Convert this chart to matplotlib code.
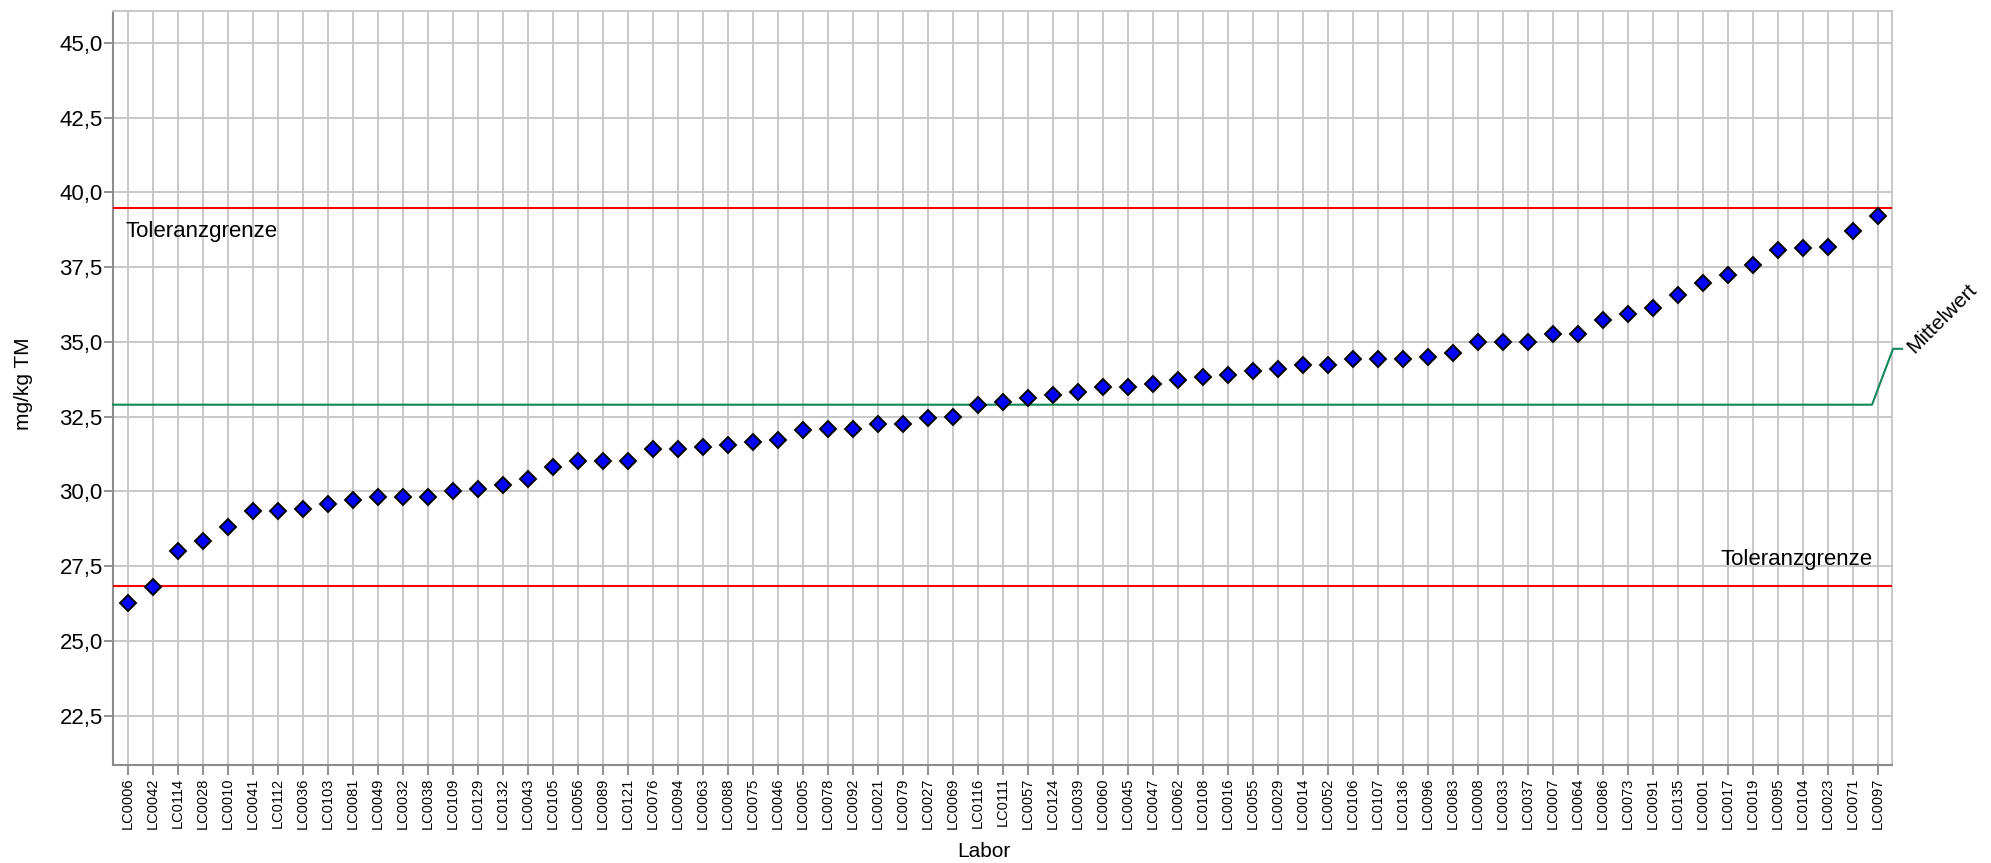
import matplotlib
matplotlib.use('Agg')
import matplotlib.pyplot as plt
from matplotlib.ticker import FuncFormatter, MultipleLocator

plt.rcParams['font.family'] = ['Liberation Sans', 'DejaVu Sans']

# Labor codes, sorted by value
labs = ['LC0006', 'LC0042', 'LC0114', 'LC0028', 'LC0010', 'LC0041', 'LC0112', 'LC0036',
        'LC0103', 'LC0081', 'LC0049', 'LC0032', 'LC0038', 'LC0109', 'LC0129', 'LC0132',
        'LC0043', 'LC0105', 'LC0056', 'LC0089', 'LC0121', 'LC0076', 'LC0094', 'LC0063',
        'LC0088', 'LC0075', 'LC0046', 'LC0005', 'LC0078', 'LC0092', 'LC0021', 'LC0079',
        'LC0027', 'LC0069', 'LC0116', 'LC0111', 'LC0057', 'LC0124', 'LC0039', 'LC0060',
        'LC0045', 'LC0047', 'LC0062', 'LC0108', 'LC0016', 'LC0055', 'LC0029', 'LC0014',
        'LC0052', 'LC0106', 'LC0107', 'LC0136', 'LC0096', 'LC0083', 'LC0008', 'LC0033',
        'LC0037', 'LC0007', 'LC0064', 'LC0086', 'LC0073', 'LC0091', 'LC0135', 'LC0001',
        'LC0017', 'LC0019', 'LC0095', 'LC0104', 'LC0023', 'LC0071', 'LC0097']

werte = [26.28, 26.79, 28.00, 28.33, 28.80, 29.35, 29.35, 29.40, 29.57, 29.70,
         29.82, 29.82, 29.82, 30.02, 30.08, 30.23, 30.43, 30.83, 31.02, 31.02,
         31.02, 31.41, 31.41, 31.49, 31.56, 31.64, 31.71, 32.04, 32.09, 32.09,
         32.24, 32.24, 32.44, 32.50, 32.90, 32.98, 33.11, 33.24, 33.32, 33.49,
         33.49, 33.59, 33.71, 33.82, 33.90, 34.02, 34.10, 34.24, 34.24, 34.43,
         34.43, 34.43, 34.50, 34.63, 35.00, 35.00, 35.00, 35.26, 35.26, 35.73,
         35.95, 36.15, 36.56, 36.97, 37.24, 37.57, 38.06, 38.14, 38.19, 38.72,
         39.20]

mittelwert = 32.90
tol_oben = 39.49
tol_unten = 26.85

fig = plt.figure(figsize=(19.91, 8.63), dpi=100)
ax = fig.add_axes([0.0568, 0.1136, 0.8935, 0.8737])

x = list(range(1, len(labs) + 1))
ax.plot(x, werte, linestyle='none', marker='D', markersize=8.5,
        markerfacecolor='#0000ff', markeredgecolor='black', markeredgewidth=1.4, zorder=5)

xmin, xmax = 0.4, 71.56
ax.set_xlim(xmin, xmax)
ax.set_ylim(20.85, 46.07)

# Toleranzgrenzen und Mittelwert
ax.plot([xmin, xmax], [tol_oben, tol_oben], color='#ff0000', lw=1.5, zorder=3)
ax.plot([xmin, xmax], [tol_unten, tol_unten], color='#ff0000', lw=1.5, zorder=3)
ax.plot([xmin, 70.76, 71.6, 71.96], [mittelwert, mittelwert, 34.77, 34.77],
        color='#12875a', lw=1.5, zorder=3, clip_on=False)

ax.text(0.88, 38.68, 'Toleranzgrenze', fontsize=16, ha='left', va='center')
ax.text(70.8, 27.72, 'Toleranzgrenze', fontsize=16, ha='right', va='center')
ax.text(72.45, 34.6, 'Mittelwert', fontsize=15, rotation=45,
        rotation_mode='anchor', ha='left', va='baseline', clip_on=False)

# Achsen
ax.set_xticks(x)
ax.set_xticklabels(labs, rotation=90, fontsize=10.5)
ax.yaxis.set_major_locator(MultipleLocator(2.5))
ax.yaxis.set_major_formatter(FuncFormatter(lambda v, p: f'{v:.1f}'.replace('.', ',')))
ax.tick_params(axis='y', labelsize=16, length=6.5, width=1.4, color='#909090', pad=1)
ax.tick_params(axis='x', length=7, width=1.4, color='#909090', pad=2)
ax.grid(True, color='#c8c8c8', lw=1.4, zorder=0)
ax.set_axisbelow(True)
for s in ['left', 'bottom']:
    ax.spines[s].set_color('#8c8c8c')
    ax.spines[s].set_linewidth(1.5)
for s in ['top', 'right']:
    ax.spines[s].set_color('#c8c8c8')
    ax.spines[s].set_linewidth(1.4)

fig.text(0.0116, 0.555, 'mg/kg TM', rotation=90, fontsize=15, ha='center', va='center')
fig.text(0.494, 0.013, 'Labor', fontsize=15, ha='center', va='center')

fig.savefig('out.png', dpi=100)
